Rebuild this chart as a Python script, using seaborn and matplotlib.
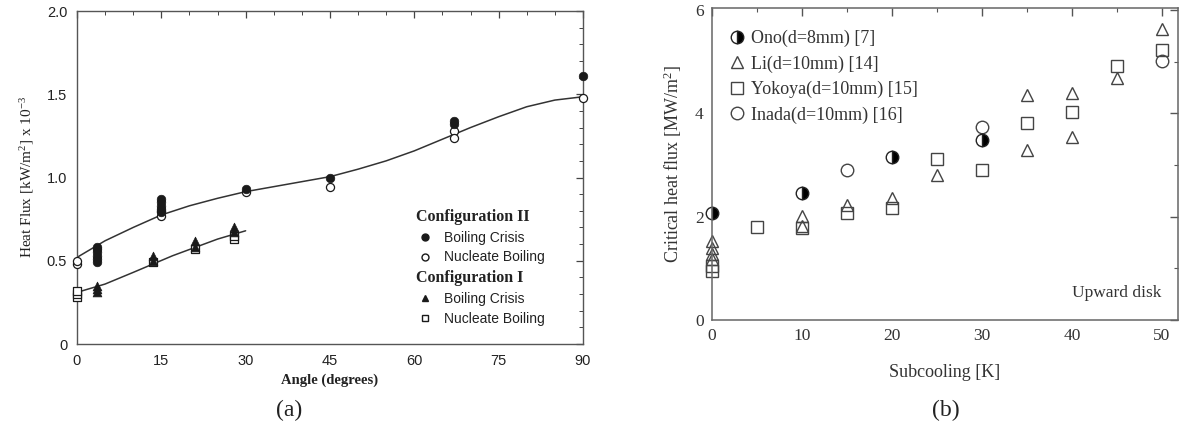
import numpy as np
import pandas as pd
import matplotlib
matplotlib.use("Agg")
import matplotlib.pyplot as plt
from matplotlib.lines import Line2D
from matplotlib.ticker import MultipleLocator
import seaborn as sns

# ---------------- data: panel (a) ----------------
c2_bc_angle = [3.5, 3.5, 3.5, 3.5, 3.5, 3.5, 15, 15, 15, 15, 15, 30, 45, 67, 67, 90]
c2_bc_flux = [0.49, 0.51, 0.53, 0.55, 0.57, 0.58, 0.87, 0.85, 0.83, 0.81, 0.79, 0.93, 1.00, 1.34, 1.32, 1.61]
c2_nb_angle = [0, 0, 15, 15, 30, 45, 67, 67, 90]
c2_nb_flux = [0.48, 0.50, 0.77, 0.80, 0.915, 0.94, 1.28, 1.24, 1.48]
c1_bc_angle = [3.5, 3.5, 3.5, 13.5, 13.5, 21, 21, 28, 28]
c1_bc_flux = [0.31, 0.33, 0.35, 0.50, 0.53, 0.58, 0.62, 0.67, 0.70]
c1_nb_angle = [0, 0, 0, 13.5, 21, 28, 28]
c1_nb_flux = [0.28, 0.30, 0.32, 0.49, 0.57, 0.63, 0.65]
fit2_angle = [0, 5, 10, 15, 20, 25, 30, 35, 40, 45, 50, 55, 60, 65, 70, 75, 80, 85, 90]
fit2_flux = [0.52, 0.62, 0.70, 0.775, 0.83, 0.875, 0.915, 0.945, 0.975, 1.005, 1.05, 1.10, 1.16, 1.23, 1.30, 1.365, 1.425, 1.465, 1.485]
fit1_angle = [0, 5, 10, 13.5, 17, 21, 25, 30]
fit1_flux = [0.31, 0.36, 0.43, 0.48, 0.53, 0.58, 0.63, 0.68]
a_xticks = [0, 15, 30, 45, 60, 75, 90]
a_yticks = [0, 0.5, 1.0, 1.5, 2.0]
a_yticklabels = ["0", "0.5", "1.0", "1.5", "2.0"]

# ---------------- data: panel (b) ----------------
ono_x = [0, 10, 20, 30]
ono_y = [2.07, 2.46, 3.16, 3.48]
li_x = [0, 0, 0, 0, 10, 10, 15, 20, 25, 35, 35, 40, 40, 45, 50]
li_y = [1.52, 1.40, 1.28, 1.18, 2.02, 1.82, 2.22, 2.36, 2.80, 4.36, 3.29, 4.40, 3.55, 4.68, 5.64]
yok_x = [0, 0, 5, 10, 15, 20, 25, 30, 35, 40, 45, 50]
yok_y = [1.05, 0.95, 1.80, 1.78, 2.08, 2.17, 3.12, 2.91, 3.82, 4.02, 4.92, 5.23]
ina_x = [15, 30, 50]
ina_y = [2.91, 3.73, 5.01]
b_xticks = [0, 10, 20, 30, 40, 50]
b_yticks = [0, 2, 4, 6]

sns.set_style("white")
plt.rcParams["font.family"] = ["Liberation Serif", "DejaVu Serif"]
plt.rcParams["mathtext.fontset"] = "custom"
plt.rcParams["mathtext.rm"] = "Liberation Serif"
plt.rcParams["mathtext.it"] = "Liberation Serif:italic"

fig = plt.figure(figsize=(11.82, 4.30), dpi=100)
fig.patch.set_facecolor("white")

# ================= panel (a) =================
axa = fig.add_axes([0.0651, 0.2, 0.4281, 0.7744])
ink = "#1a1a1a"

sns.lineplot(x=fit2_angle, y=fit2_flux, ax=axa, color="#333333", lw=1.1, estimator=None, sort=False)
sns.lineplot(x=fit1_angle, y=fit1_flux, ax=axa, color="#333333", lw=1.1, estimator=None, sort=False)

sns.scatterplot(x=c2_nb_angle, y=c2_nb_flux, ax=axa, marker="o", s=34, facecolor="white",
                edgecolor=ink, linewidth=0.9, zorder=3, clip_on=False)
sns.scatterplot(x=c2_bc_angle, y=c2_bc_flux, ax=axa, marker="o", s=38, color=ink,
                edgecolor=ink, linewidth=0.5, zorder=4, clip_on=False)
sns.scatterplot(x=c1_nb_angle, y=c1_nb_flux, ax=axa, marker="s", s=34, facecolor="white",
                edgecolor=ink, linewidth=0.9, zorder=3, clip_on=False)
sns.scatterplot(x=c1_bc_angle, y=c1_bc_flux, ax=axa, marker="^", s=40, color=ink,
                edgecolor=ink, linewidth=0.5, zorder=4, clip_on=False)

axa.set_xlim(0, 90)
axa.set_ylim(0, 2.0)
axa.set_xticks(a_xticks)
axa.set_yticks(a_yticks)
axa.set_yticklabels(a_yticklabels)
axa.xaxis.set_minor_locator(MultipleLocator(5))
axa.yaxis.set_minor_locator(MultipleLocator(0.1))
axa.tick_params(which="both", direction="in", top=True, right=True, color="#444444")
axa.tick_params(which="major", length=5, width=0.9, pad=7)
axa.tick_params(which="minor", length=3, width=0.7)
for lab in axa.get_xticklabels() + axa.get_yticklabels():
    lab.set_family(["Liberation Sans", "DejaVu Sans"])
    lab.set_fontsize(10.5)
    lab.set_color("#222222")
for sp in axa.spines.values():
    sp.set_color("#555555")
    sp.set_linewidth(1.0)

axa.set_xlabel("Angle (degrees)", fontsize=10.5, fontweight="bold", color="#222222", labelpad=4)
axa.set_ylabel(r"Heat Flux [kW/m$^2$] x 10$^{-3}$", fontsize=11, color="#222222", labelpad=8)

handles_a = [
    Line2D([], [], linestyle="none", marker=None, label="Configuration II"),
    Line2D([], [], linestyle="none", marker="o", markersize=5, color=ink, label="Boiling Crisis"),
    Line2D([], [], linestyle="none", marker="o", markersize=5, markerfacecolor="white",
           markeredgecolor=ink, label="Nucleate Boiling"),
    Line2D([], [], linestyle="none", marker=None, label="Configuration I"),
    Line2D([], [], linestyle="none", marker="^", markersize=5, color=ink, label="Boiling Crisis"),
    Line2D([], [], linestyle="none", marker="s", markersize=5, markerfacecolor="white",
           markeredgecolor=ink, label="Nucleate Boiling"),
]
leg = axa.legend(handles=handles_a, loc="lower left", bbox_to_anchor=(0.655, 0.025),
                 frameon=False, handlelength=1.0, handletextpad=0.9, labelspacing=0.42,
                 borderpad=0.2)
for i, t in enumerate(leg.get_texts()):
    if i in (0, 3):
        t.set_fontweight("bold")
        t.set_fontsize(11.5)
        t.set_family(["Liberation Serif", "DejaVu Serif"])
        t.set_x(-28)
    else:
        t.set_fontsize(10)
        t.set_family(["Liberation Sans", "DejaVu Sans"])
    t.set_color("#222222")

fig.text(0.245, 0.045, "(a)", fontsize=17, ha="center", va="center", color="#222222")

# ================= panel (b) =================
axb = fig.add_axes([0.6024, 0.2558, 0.3942, 0.7256])
edge = "#444444"
ms = 9

sns.lineplot(x=li_x, y=li_y, ax=axb, linestyle="none", marker="^", markersize=ms,
             markerfacecolor="none", markeredgecolor=edge, markeredgewidth=1.0,
             estimator=None, sort=False, color=edge, clip_on=False)
sns.lineplot(x=yok_x, y=yok_y, ax=axb, linestyle="none", marker="s", markersize=ms - 0.5,
             markerfacecolor="none", markeredgecolor=edge, markeredgewidth=1.0,
             estimator=None, sort=False, color=edge, clip_on=False)
sns.lineplot(x=ina_x, y=ina_y, ax=axb, linestyle="none", marker="o", markersize=ms,
             markerfacecolor="none", markeredgecolor=edge, markeredgewidth=1.0,
             estimator=None, sort=False, color=edge, clip_on=False)
sns.lineplot(x=ono_x, y=ono_y, ax=axb, linestyle="none", marker="o", markersize=ms,
             fillstyle="right", markerfacecolor="black", markerfacecoloralt="white",
             markeredgecolor="#222222", markeredgewidth=1.0,
             estimator=None, sort=False, color="black", clip_on=False)

axb.set_xlim(0, 51.8)
axb.set_ylim(0, 6.04)
axb.set_xticks(b_xticks)
axb.set_yticks(b_yticks)
axb.xaxis.set_minor_locator(MultipleLocator(5))
axb.yaxis.set_minor_locator(MultipleLocator(1))
axb.tick_params(which="both", direction="in", top=True, right=True, color="#555555")
axb.tick_params(which="major", length=6, width=1.0, pad=6, labelsize=12.5, labelcolor="#333333")
axb.tick_params(which="minor", length=3, width=0.8)
for sp in axb.spines.values():
    sp.set_color("#666666")
    sp.set_linewidth(1.1)

axb.set_xlabel("Subcooling [K]", fontsize=13, color="#333333", labelpad=14)
axb.set_ylabel(r"Critical heat flux [MW/m$^2$]", fontsize=13, color="#333333", labelpad=8)

handles_b = [
    Line2D([], [], linestyle="none", marker="o", markersize=ms, fillstyle="right",
           markerfacecolor="black", markerfacecoloralt="white", markeredgecolor="#222222",
           label="Ono(d=8mm) [7]"),
    Line2D([], [], linestyle="none", marker="^", markersize=ms, markerfacecolor="none",
           markeredgecolor=edge, label="Li(d=10mm) [14]"),
    Line2D([], [], linestyle="none", marker="s", markersize=ms - 0.5, markerfacecolor="none",
           markeredgecolor=edge, label="Yokoya(d=10mm) [15]"),
    Line2D([], [], linestyle="none", marker="o", markersize=ms, markerfacecolor="none",
           markeredgecolor=edge, label="Inada(d=10mm) [16]"),
]
legb = axb.legend(handles=handles_b, loc="upper left", bbox_to_anchor=(0.01, 0.97),
                  frameon=False, handlelength=0.8, handletextpad=0.4, labelspacing=0.45,
                  fontsize=13, borderpad=0.2)
for t in legb.get_texts():
    t.set_color("#333333")

axb.text(0.965, 0.085, "Upward disk", transform=axb.transAxes, ha="right", va="center",
         fontsize=12.5, color="#333333")

fig.text(0.800, 0.045, "(b)", fontsize=17, ha="center", va="center", color="#222222")

fig.savefig("out.png", dpi=100, facecolor="white")
